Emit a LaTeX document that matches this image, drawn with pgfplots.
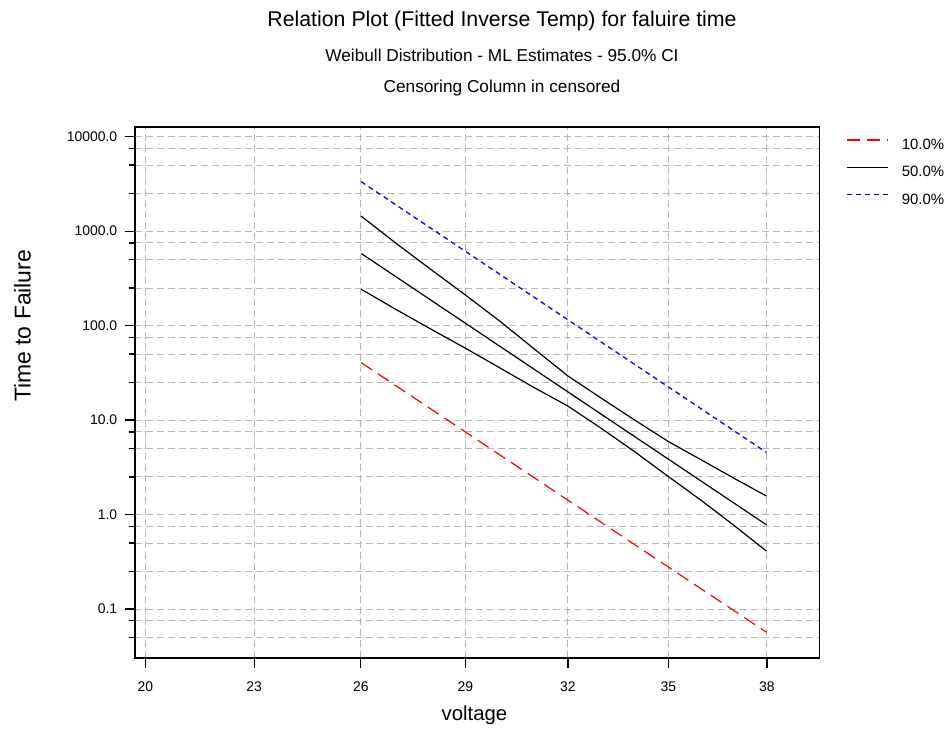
\documentclass[border=0pt]{standalone}
\usepackage{pgfplots}
\pgfplotsset{compat=1.18}
\usepackage{fontspec}
\setmainfont{Liberation Sans}
\definecolor{gridgray}{RGB}{184,184,184}
\begin{document}
\begin{tikzpicture}[x=1bp,y=1bp]
\path[use as bounding box] (0,0) rectangle (947,732);
\begin{axis}[
  at={(134.7bp,73.7bp)}, anchor=south west,
  scale only axis, width=684.6bp, height=531bp,
  ymode=log, log basis y=10,
  xmin=19.71, xmax=39.62, ymin=0.0301, ymax=12575,
  x coord trafo/.code={\pgfmathparse{-10000/(#1+273.15)}},
  x coord inv trafo/.code={\pgfmathparse{-10000/#1-273.15}},
  xtick={20,23,26,29,32,35,38},
  xticklabels={20,23,26,29,32,35,38},
  ytick={0.1,1,10,100,1000,10000},
  yticklabels={0.1,1.0,10.0,100.0,1000.0,10000.0},
  minor ytick={0.05,0.075,0.25,0.5,0.75,2.5,5,7.5,25,50,75,250,500,750,2500,5000,7500},
  xmajorgrids=true, ymajorgrids=true, yminorgrids=true,
  major grid style={gridgray, line width=1bp, dash pattern=on 7bp off 4bp},
  minor grid style={gridgray, line width=1bp, dash pattern=on 7bp off 4bp},
  axis line style={line width=1.6bp},
  tick align=outside, xtick pos=lower, ytick pos=left,
  major tick length=10bp, minor tick length=6bp,
  tick style={black, line width=1.3bp},
  /pgf/number format/assume math mode=true,
  ticklabel style={font=\fontsize{14}{16}\selectfont},
  yticklabel style={xshift=-4bp},
  xticklabel style={yshift=-10bp},
  xlabel={voltage},
  ylabel={Time to Failure},
  xlabel style={at={(axis description cs:0.5,0)}, anchor=base, yshift=-62.4bp, xshift=-2.5bp, font=\fontsize{20.4}{24}\selectfont},
  ylabel style={at={(axis description cs:-0.152,0.626)}, anchor=base, font=\fontsize{23}{26}\selectfont},
  legend style={at={(axis description cs:1,1)}, anchor=north west, xshift=27bp, yshift=-9.5bp,
    draw=none, fill=none, inner sep=0pt, font=\fontsize{15}{17}\selectfont, row sep=11.5bp,
    /tikz/every odd column/.append style={column sep=11bp}},
  legend cell align=left,
  legend image code/.code={\draw[#1] (0bp,5bp) -- (41bp,5bp);},
]
\addplot[color=red, line width=1.2bp, dash pattern=on 13bp off 7bp] coordinates {(26,40.6) (38,0.0567)};
\addlegendentry{10.0\%}
\addplot[color=black, line width=1.2bp] coordinates {(26,581) (38,0.778)};
\addlegendentry{50.0\%}
\addplot[color=blue, line width=1.3bp, dash pattern=on 5bp off 4bp] coordinates {(26,3340) (38,4.54)};
\addlegendentry{90.0\%}
\addplot[color=black, line width=1.2bp, forget plot] coordinates {
(26,1442) (27,743) (28,394) (29,211) (30,111) (31,56.8) (32,29.4) (33,17.0) (34,9.98) (35,5.94) (36,3.79) (37,2.41) (38,1.57)};
\addplot[color=black, line width=1.2bp, forget plot] coordinates {
(26,243) (27,148) (28,92.0) (29,57.7) (30,35.6) (31,22.1) (32,14.1) (33,8.15) (34,4.61) (35,2.53) (36,1.41) (37,0.762) (38,0.410)};
\end{axis}
\node[anchor=base, font=\fontsize{21.4}{24}\selectfont] at (502,705.5) {Relation Plot (Fitted Inverse Temp) for faluire time};
\node[anchor=base, font=\fontsize{17.3}{20}\selectfont] at (502,670.3) {Weibull Distribution - ML Estimates - 95.0\% CI};
\node[anchor=base, font=\fontsize{17.3}{20}\selectfont] at (502,639.7) {Censoring Column in censored};
\end{tikzpicture}
\end{document}
